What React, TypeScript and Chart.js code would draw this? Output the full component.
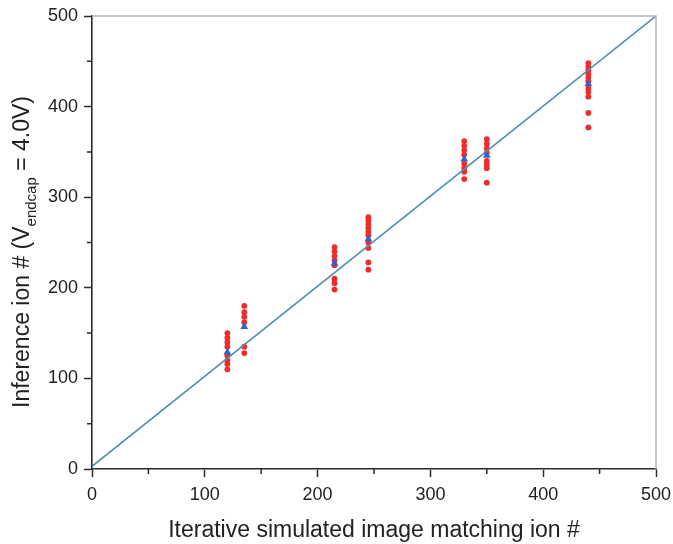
import React, { useEffect, useRef } from 'react';
import { Chart, registerables } from 'chart.js';

Chart.register(...registerables);

// Group x positions (iterative simulated image matching ion #)
const xGroups = [120, 135, 215, 245, 330, 350, 440];

// Individual inference results (red dots) per group
const red120 = [150, 145, 140, 135, 125, 120, 116, 110];
const red135 = [180, 173, 168, 162, 135, 128];
const red215 = [245, 240, 235, 230, 225, 210, 205, 198];
const red245 = [278, 274, 270, 266, 262, 258, 250, 244, 228, 220];
const red330 = [362, 357, 352, 347, 337, 332, 328, 320];
const red350 = [364, 359, 354, 349, 340, 336, 332, 316];
const red440 = [448, 444, 440, 436, 432, 428, 420, 416, 411, 393, 377];
const redGroups = [red120, red135, red215, red245, red330, red350, red440];

// Mean values (blue triangles)
const blueMeans = [129, 157, 227, 254, 342, 346, 425];

// Reference line
const lineX = [0, 500];
const lineY = [3, 500];

const axisMin = 0;
const axisMax = 500;
const majorStep = 100;
const minorTicks = [50, 150, 250, 350, 450];

const xTitle = 'Iterative simulated image matching ion #';
const yTitleMain = 'Inference ion # (V';
const yTitleSub = 'endcap';
const yTitleEnd = ' = 4.0V)';

const FONT = '"Liberation Sans", Arial, sans-serif';
const AXIS_COLOR = '#2a2a2a';

const framePlugin = {
  id: 'framePlugin',
  afterDraw(chart: any) {
    const { ctx, chartArea } = chart;
    const xs = chart.scales.x;
    const ys = chart.scales.y;
    ctx.save();
    // top and right frame
    ctx.strokeStyle = '#b5b5b5';
    ctx.lineWidth = 1.5;
    ctx.beginPath();
    ctx.moveTo(chartArea.left, chartArea.top);
    ctx.lineTo(chartArea.right, chartArea.top);
    ctx.lineTo(chartArea.right, chartArea.bottom);
    ctx.stroke();
    // minor ticks
    ctx.strokeStyle = AXIS_COLOR;
    ctx.lineWidth = 1.5;
    ctx.beginPath();
    minorTicks.forEach((v) => {
      const px = xs.getPixelForValue(v);
      ctx.moveTo(px, chartArea.bottom);
      ctx.lineTo(px, chartArea.bottom + 5);
      const py = ys.getPixelForValue(v);
      ctx.moveTo(chartArea.left, py);
      ctx.lineTo(chartArea.left - 5, py);
    });
    ctx.stroke();
    // y title with subscript
    ctx.translate(29, 252);
    ctx.rotate(-Math.PI / 2);
    ctx.fillStyle = '#222';
    ctx.textBaseline = 'alphabetic';
    ctx.textAlign = 'left';
    const mainFont = `23px ${FONT}`;
    const subFont = `15px ${FONT}`;
    ctx.font = mainFont;
    const w1 = ctx.measureText(yTitleMain).width;
    const w3 = ctx.measureText(yTitleEnd).width;
    ctx.font = subFont;
    const w2 = ctx.measureText(yTitleSub).width;
    let x0 = -(w1 + w2 + w3) / 2;
    ctx.font = mainFont;
    ctx.fillText(yTitleMain, x0, 0);
    x0 += w1;
    ctx.font = subFont;
    ctx.fillText(yTitleSub, x0, 7);
    x0 += w2;
    ctx.font = mainFont;
    ctx.fillText(yTitleEnd, x0, 0);
    ctx.restore();
  },
};

export default function App() {
  const ref = useRef<HTMLCanvasElement | null>(null);

  useEffect(() => {
    document.body.style.margin = '0';
    if (!ref.current) return;

    const redPoints: { x: number; y: number }[] = [];
    redGroups.forEach((grp, i) => {
      grp.forEach((v) => redPoints.push({ x: xGroups[i], y: v }));
    });
    const bluePoints = xGroups.map((x, i) => ({ x, y: blueMeans[i] }));
    const linePoints = lineX.map((x, i) => ({ x, y: lineY[i] }));

    const tickCommon = {
      color: '#222',
      font: { family: FONT, size: 18 },
    };

    const chart = new Chart(ref.current, {
      type: 'scatter',
      data: {
        datasets: [
          {
            label: 'mean',
            data: bluePoints,
            pointStyle: 'triangle',
            pointRadius: 4.5,
            backgroundColor: '#2b63d6',
            borderColor: '#2b63d6',
            borderWidth: 0,
            order: 0,
          },
          {
            label: 'line',
            data: linePoints,
            showLine: true,
            borderColor: '#4f8fb0',
            borderWidth: 1.6,
            pointRadius: 0,
            order: 1,
          },
          {
            label: 'inference',
            data: redPoints,
            pointStyle: 'circle',
            pointRadius: 2.9,
            backgroundColor: '#ef2b2b',
            borderColor: '#ef2b2b',
            borderWidth: 0,
            order: 2,
          },
        ],
      },
      options: {
        responsive: false,
        animation: false,
        layout: { padding: { top: 16, right: 17, left: 0, bottom: 0 } },
        plugins: {
          legend: { display: false },
          tooltip: { enabled: false },
        },
        scales: {
          x: {
            type: 'linear',
            min: axisMin,
            max: axisMax,
            ticks: { ...tickCommon, stepSize: majorStep, padding: 7, maxRotation: 0 },
            grid: {
              drawOnChartArea: false,
              drawTicks: true,
              tickLength: 8,
              tickColor: AXIS_COLOR,
              tickWidth: 1.5,
            },
            border: { color: AXIS_COLOR, width: 1.6 },
            title: {
              display: true,
              text: xTitle,
              color: '#222',
              font: { family: FONT, size: 23 },
              padding: { top: 4, bottom: 0 },
            },
            afterFit: (scale: any) => {
              scale.height = 75;
              scale.paddingLeft = 0;
              scale.paddingRight = 0;
            },
          },
          y: {
            type: 'linear',
            min: axisMin,
            max: axisMax,
            ticks: { ...tickCommon, stepSize: majorStep, padding: 6 },
            grid: {
              drawOnChartArea: false,
              drawTicks: true,
              tickLength: 8,
              tickColor: AXIS_COLOR,
              tickWidth: 1.5,
            },
            border: { color: AXIS_COLOR, width: 1.6 },
            afterFit: (scale: any) => {
              scale.width = 92;
              scale.paddingTop = 0;
              scale.paddingBottom = 0;
            },
          },
        },
      },
      plugins: [framePlugin],
    });

    return () => chart.destroy();
  }, []);

  return (
    <div style={{ width: 673, height: 544 }}>
      <canvas ref={ref} width={673} height={544} />
    </div>
  );
}
